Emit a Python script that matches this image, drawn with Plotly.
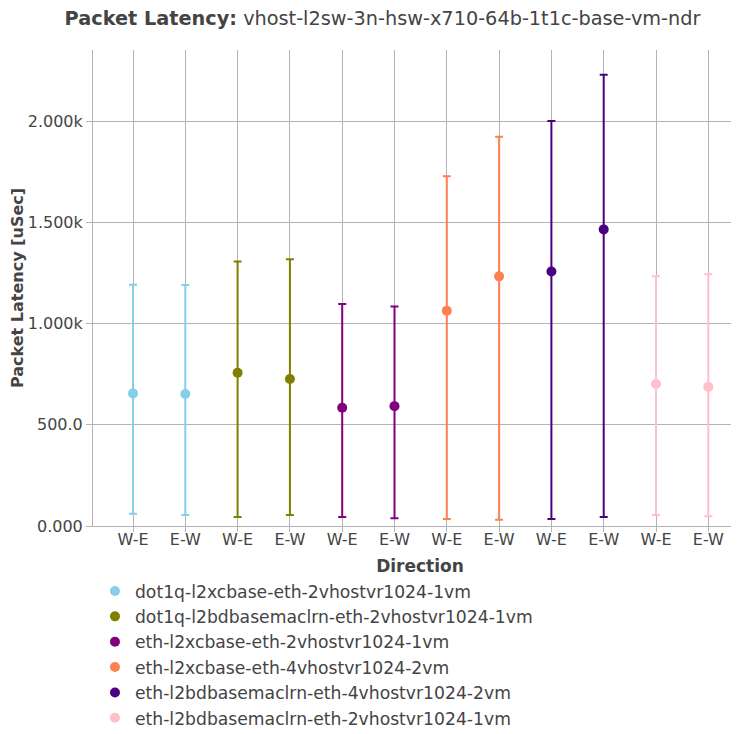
import plotly.graph_objects as go

names = [
    "dot1q-l2xcbase-eth-2vhostvr1024-1vm",
    "dot1q-l2bdbasemaclrn-eth-2vhostvr1024-1vm",
    "eth-l2xcbase-eth-2vhostvr1024-1vm",
    "eth-l2xcbase-eth-4vhostvr1024-2vm",
    "eth-l2bdbasemaclrn-eth-4vhostvr1024-2vm",
    "eth-l2bdbasemaclrn-eth-2vhostvr1024-1vm",
]
colors = ["skyblue", "olive", "purple", "coral", "indigo", "pink"]
directions = ["W-E", "E-W"]

# [W-E, E-W] per test
avg_lat = [
    [655, 652],
    [757, 726],
    [584, 592],
    [1063, 1233],
    [1257, 1465],
    [701, 687],
]
max_lat = [
    [1191, 1190],
    [1307, 1317],
    [1097, 1084],
    [1728, 1922],
    [2000, 2229],
    [1234, 1244],
]
min_lat = [
    [61, 54],
    [45, 54],
    [45, 38],
    [35, 31],
    [35, 45],
    [54, 48],
]

FONT = "DejaVu Sans"
GRID = "rgb(180,180,180)"
fig = go.Figure()
tickvals, ticktext = [], []
for i, name in enumerate(names):
    xs = [2 * i, 2 * i + 1]
    tickvals += xs
    ticktext += directions
    ys = avg_lat[i]
    fig.add_trace(go.Scatter(
        x=xs, y=ys, name=name, mode="markers",
        marker=dict(color=colors[i], size=10),
        error_y=dict(
            type="data", symmetric=False,
            array=[mx - y for mx, y in zip(max_lat[i], ys)],
            arrayminus=[y - mn for mn, y in zip(min_lat[i], ys)],
            color=colors[i], thickness=2, width=4,
        ),
    ))

fig.update_layout(
    width=739, height=734,
    paper_bgcolor="white", plot_bgcolor="white",
    font=dict(family=FONT, size=16, color="#444"),
    margin=dict(l=85, r=0, t=42, b=216, autoexpand=False),
    title=dict(
        text="<b>Packet Latency:</b> vhost-l2sw-3n-hsw-x710-64b-1t1c-base-vm-ndr",
        x=0.5068, xanchor="center", xref="container",
        y=0.9855, yanchor="middle", yref="container",
        font=dict(size=19.3, family=FONT),
    ),
    showlegend=True,
    legend=dict(
        orientation="v", x=0.003, xanchor="left", y=-0.0994, yanchor="top",
        font=dict(size=17.2, family=FONT), tracegroupgap=0,
        bgcolor="rgba(0,0,0,0)",
    ),
    xaxis=dict(
        title=dict(text="<b>Direction</b>", font=dict(size=17), standoff=11),
        tickmode="array", tickvals=tickvals, ticktext=ticktext,
        range=[-0.765, 11.74],
        showgrid=True, gridcolor=GRID, gridwidth=1,
        showline=True, linecolor=GRID, linewidth=1,
        ticks="outside", ticklen=5, tickcolor=GRID,
        ticklabelstandoff=-6,
        zeroline=False,
    ),
    yaxis=dict(
        title=dict(text="<b>Packet Latency [uSec]</b>", font=dict(size=16), standoff=2),
        tickformat=".4s", range=[0, 2351],
        showgrid=True, gridcolor=GRID, gridwidth=1,
        showline=True, linecolor=GRID, linewidth=1,
        ticks="outside", ticklen=6, tickcolor=GRID,
        zeroline=False,
    ),
)

fig.write_html("out.html")
